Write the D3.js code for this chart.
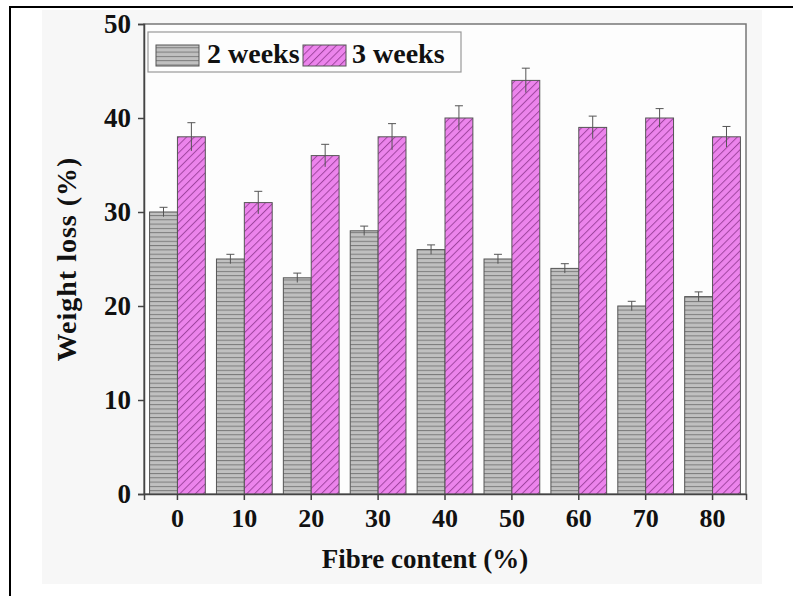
<!DOCTYPE html>
<html><head><meta charset="utf-8">
<script src="https://cdn.jsdelivr.net/npm/d3@7"></script>
<style>body{margin:0;background:#fff;}svg{display:block;}</style>
</head><body>
<script>
const categories = ["0","10","20","30","40","50","60","70","80"];
const seriesNames = ["2 weeks","3 weeks"];
const week2 = [30,25,23,28,26,25,24,20,21];
const week3 = [38,31,36,38,40,44,39,40,38];
const week2Err = [0.5,0.5,0.5,0.5,0.5,0.5,0.5,0.5,0.5];
const week3Err = [1.5,1.2,1.2,1.4,1.3,1.3,1.2,1.0,1.1];
const yTicks = [0,10,20,30,40,50];

const W=793,H=596;
const svg=d3.select("body").append("svg").attr("width",W).attr("height",H);
const defs=svg.append("defs");
const p1=defs.append("pattern").attr("id","hatchH").attr("patternUnits","userSpaceOnUse").attr("width",6).attr("height",4.3);
p1.append("rect").attr("width",6).attr("height",4.3).attr("fill","#c0c0c0");
p1.append("line").attr("x1",0).attr("x2",6).attr("y1",0.5).attr("y2",0.5).attr("stroke","#7a7a7a").attr("stroke-width",1);
const p2=defs.append("pattern").attr("id","hatchD").attr("patternUnits","userSpaceOnUse").attr("width",5.5).attr("height",5.5).attr("patternTransform","rotate(45)");
p2.append("rect").attr("width",5.5).attr("height",5.5).attr("fill","#ec84ec");
p2.append("line").attr("x1",0.5).attr("x2",0.5).attr("y1",0).attr("y2",5.5).attr("stroke","#a046a0").attr("stroke-width",1);

// background panel
svg.append("rect").attr("x",42).attr("y",10).attr("width",720).attr("height",574).attr("fill","#f7f7f7");
// outer border
svg.append("line").attr("x1",9).attr("x2",W).attr("y1",7).attr("y2",7).attr("stroke","#000").attr("stroke-width",2);
svg.append("line").attr("x1",10).attr("x2",10).attr("y1",6).attr("y2",H).attr("stroke","#000").attr("stroke-width",2);

const m={l:144,t:24,r:746,b:494};
const x=d3.scaleBand().domain(categories).range([m.l,m.r]).padding(0);
const inner=d3.scaleBand().domain(seriesNames).range([0,x.bandwidth()]).paddingOuter(0.2).paddingInner(0);
const y=d3.scaleLinear().domain([0,50]).range([m.b,m.t]);

svg.append("rect").attr("x",m.l).attr("y",m.t).attr("width",m.r-m.l).attr("height",m.b-m.t).attr("fill","#fdfdfd").attr("stroke","#777").attr("stroke-width",1.5);

const data=categories.map((c,i)=>({c,vals:[{s:seriesNames[0],v:week2[i],e:week2Err[i]},{s:seriesNames[1],v:week3[i],e:week3Err[i]}]}));
const fills={"2 weeks":"url(#hatchH)","3 weeks":"url(#hatchD)"};
const g=svg.append("g");
const grp=g.selectAll("g").data(data).join("g").attr("transform",d=>`translate(${x(d.c)},0)`);
grp.selectAll("rect").data(d=>d.vals).join("rect")
 .attr("x",d=>inner(d.s)).attr("width",inner.bandwidth())
 .attr("y",d=>y(d.v)).attr("height",d=>y(0)-y(d.v))
 .attr("fill",d=>fills[d.s]).attr("stroke","#555").attr("stroke-width",1);
const eb=grp.selectAll("g.eb").data(d=>d.vals).join("g").attr("class","eb").attr("stroke","#555").attr("stroke-width",1);
eb.append("line").attr("x1",d=>inner(d.s)+inner.bandwidth()/2).attr("x2",d=>inner(d.s)+inner.bandwidth()/2).attr("y1",d=>y(d.v+d.e)).attr("y2",d=>y(d.v-d.e));
eb.append("line").attr("x1",d=>inner(d.s)+inner.bandwidth()/2-4).attr("x2",d=>inner(d.s)+inner.bandwidth()/2+4).attr("y1",d=>y(d.v+d.e)).attr("y2",d=>y(d.v+d.e));

const font="'Liberation Serif', serif";
const ya=svg.append("g").attr("transform",`translate(${m.l},0)`).call(d3.axisLeft(y).tickValues(yTicks).tickSize(6).tickPadding(7));
ya.select(".domain").attr("stroke","#444").attr("stroke-width",1.5);
ya.selectAll(".tick line").attr("stroke","#444").attr("stroke-width",1.5);
ya.selectAll("text").attr("font-family",font).attr("font-weight","bold").attr("font-size",27).attr("fill","#111");
const xa=svg.append("g").attr("transform",`translate(0,${m.b})`).call(d3.axisBottom(x).tickSize(6).tickPadding(9));
xa.select(".domain").attr("stroke","#444").attr("stroke-width",1.5);
xa.selectAll(".tick line").attr("stroke","#444").attr("stroke-width",1.5);
xa.selectAll("text").attr("font-family",font).attr("font-weight","bold").attr("font-size",26).attr("fill","#111");

svg.append("text").attr("x",425).attr("y",568).attr("text-anchor","middle").attr("font-family",font).attr("font-weight","bold").attr("font-size",27).attr("fill","#111").text("Fibre content (%)");
svg.append("text").attr("transform",`translate(76,${(m.t+m.b)/2}) rotate(-90)`).attr("text-anchor","middle").attr("font-family",font).attr("font-weight","bold").attr("font-size",28).attr("letter-spacing",1).attr("fill","#111").text("Weight loss (%)");

// legend
const lg=svg.append("g");
lg.append("rect").attr("x",148).attr("y",32).attr("width",313).attr("height",40).attr("fill","#fdfdfd").attr("stroke","#999").attr("stroke-width",1.2);
const li=[{s:seriesNames[0],x:156,tx:207},{s:seriesNames[1],x:303,tx:352}];
li.forEach(d=>{
 lg.append("rect").attr("x",d.x).attr("y",45).attr("width",43).attr("height",21).attr("fill",fills[d.s]).attr("stroke","#555");
 lg.append("text").attr("x",d.tx).attr("y",63).attr("font-family",font).attr("font-weight","bold").attr("font-size",28).attr("fill","#111").text(d.s);
});
</script>
</body></html>
